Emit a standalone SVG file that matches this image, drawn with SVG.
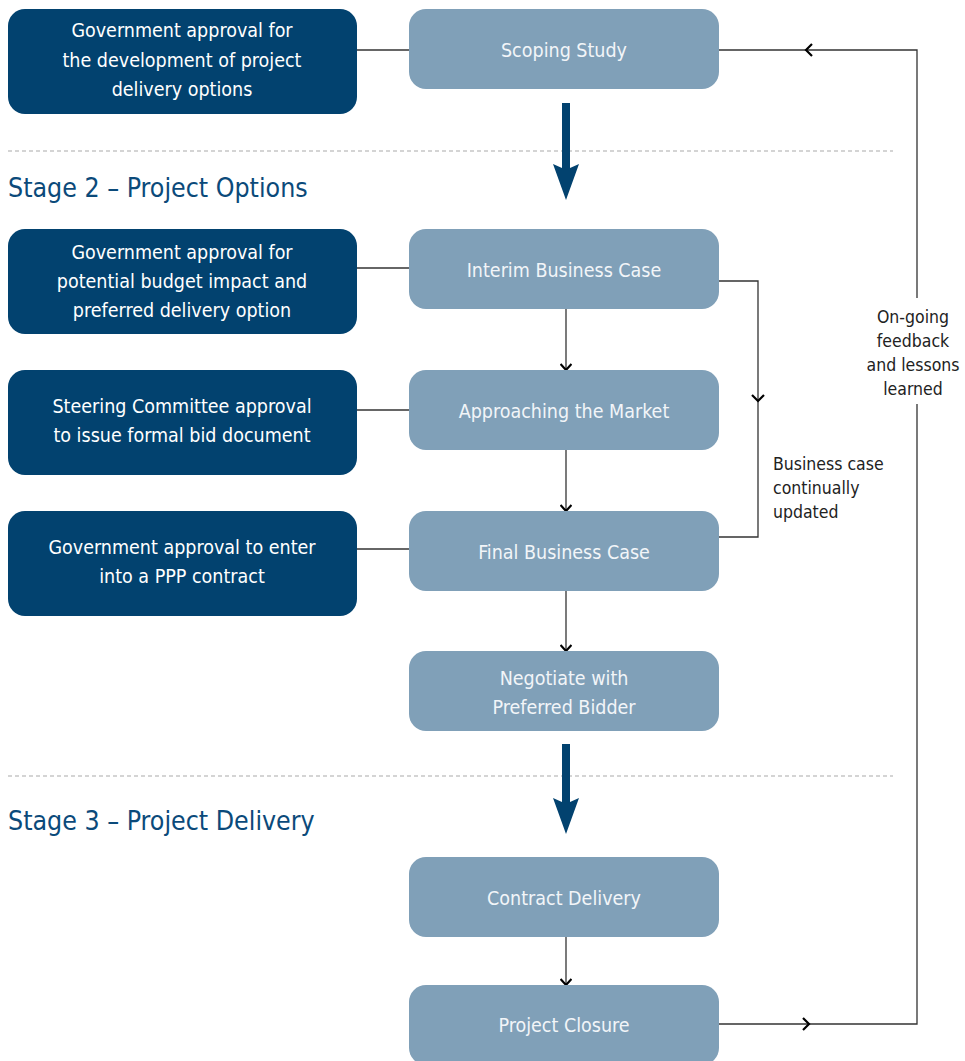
<svg xmlns="http://www.w3.org/2000/svg" width="965" height="1061" viewBox="0 0 965 1061">
<defs>
<style>
.dark{fill:#02426f}
.light{fill:#80a0b8}
.t{font-family:"Liberation Sans Narrow","DejaVu Sans Condensed","Liberation Sans",sans-serif;font-size:19.5px;fill:#ffffff;text-anchor:middle}
.lt{fill:#f2f5f8}
.stage{font-family:"Liberation Sans Narrow","DejaVu Sans Condensed","Liberation Sans",sans-serif;font-size:26.5px;fill:#0b4a7a}
.lbl{font-family:"Liberation Sans Narrow","DejaVu Sans Condensed","Liberation Sans",sans-serif;font-size:17.5px;fill:#222}
.ln{fill:none;stroke:#333;stroke-width:1.3}
.dash{stroke:#aaa;stroke-width:1.2;stroke-dasharray:4 3}
.chev{fill:none;stroke:#000;stroke-width:2.2}
</style>
<marker id="ah" viewBox="0 0 12 12" refX="11" refY="6" markerWidth="12" markerHeight="12" markerUnits="userSpaceOnUse" orient="auto">
<path d="M5,0.5 L11,6 L5,11.5" class="chev"/>
</marker>
</defs>
<line class="dash" x1="8" y1="151" x2="893" y2="151"/>
<line class="dash" x1="8" y1="776" x2="893" y2="776"/>
<text class="stage" x="8" y="197">Stage 2 – Project Options</text>
<text class="stage" x="8" y="830">Stage 3 – Project Delivery</text>
<g id="connectors">
<line class="ln" x1="357" y1="50" x2="409" y2="50"/>
<line class="ln" x1="357" y1="268" x2="409" y2="268"/>
<line class="ln" x1="357" y1="410" x2="409" y2="410"/>
<line class="ln" x1="357" y1="549" x2="409" y2="549"/>
<line class="ln" x1="566" y1="309" x2="566" y2="370" marker-end="url(#ah)"/>
<line class="ln" x1="566" y1="450" x2="566" y2="511" marker-end="url(#ah)"/>
<line class="ln" x1="566" y1="591" x2="566" y2="651" marker-end="url(#ah)"/>
<line class="ln" x1="566" y1="937" x2="566" y2="985" marker-end="url(#ah)"/>
<polyline class="ln" points="719,281 758,281 758,537 719,537"/>
<path class="chev" d="M752,395 L758,401 L764,395"/>
<polyline class="ln" points="719,1024 917,1024 917,404"/>
<polyline class="ln" points="917,298 917,50 719,50"/>
<path class="chev" d="M803,1018 L809,1024 L803,1030"/>
<path class="chev" d="M812,44 L806,50 L812,56"/>
<polygon fill="#02426f" points="562,103 570,103 570,168 579,164 566,200 553,164 562,168"/>
<polygon fill="#02426f" points="562,744 570,744 570,802 579,798 566,834 553,798 562,802"/>
</g>
<g id="n1"><rect class="dark" x="8" y="9" width="349" height="105" rx="17"/>
<text class="t" x="182" y="37">Government approval for</text>
<text class="t" x="182" y="67">the development of project</text>
<text class="t" x="182" y="96">delivery options</text></g>
<g id="n2"><rect class="dark" x="8" y="229" width="349" height="105" rx="17"/>
<text class="t" x="182" y="259">Government approval for</text>
<text class="t" x="182" y="288">potential budget impact and</text>
<text class="t" x="182" y="317">preferred delivery option</text></g>
<g id="n3"><rect class="dark" x="8" y="370" width="349" height="105" rx="17"/>
<text class="t" x="182" y="413">Steering Committee approval</text>
<text class="t" x="182" y="442">to issue formal bid document</text></g>
<g id="n4"><rect class="dark" x="8" y="511" width="349" height="105" rx="17"/>
<text class="t" x="182" y="554">Government approval to enter</text>
<text class="t" x="182" y="583">into a PPP contract</text></g>
<g id="s1"><rect class="light" x="409" y="9" width="310" height="80" rx="17"/>
<text class="t lt" x="564" y="57">Scoping Study</text></g>
<g id="s2"><rect class="light" x="409" y="229" width="310" height="80" rx="17"/>
<text class="t lt" x="564" y="277">Interim Business Case</text></g>
<g id="s3"><rect class="light" x="409" y="370" width="310" height="80" rx="17"/>
<text class="t lt" x="564" y="418">Approaching the Market</text></g>
<g id="s4"><rect class="light" x="409" y="511" width="310" height="80" rx="17"/>
<text class="t lt" x="564" y="559">Final Business Case</text></g>
<g id="s5"><rect class="light" x="409" y="651" width="310" height="80" rx="17"/>
<text class="t lt" x="564" y="685">Negotiate with</text>
<text class="t lt" x="564" y="714">Preferred Bidder</text></g>
<g id="s6"><rect class="light" x="409" y="857" width="310" height="80" rx="17"/>
<text class="t lt" x="564" y="905">Contract Delivery</text></g>
<g id="s7"><rect class="light" x="409" y="985" width="310" height="80" rx="17"/>
<text class="t lt" x="564" y="1032">Project Closure</text></g>
<g id="labels">
<text class="lbl" x="773" y="470">Business case</text>
<text class="lbl" x="773" y="494">continually</text>
<text class="lbl" x="773" y="518">updated</text>
<text class="lbl" x="913" y="323" text-anchor="middle">On-going</text>
<text class="lbl" x="913" y="347" text-anchor="middle">feedback</text>
<text class="lbl" x="913" y="371" text-anchor="middle">and lessons</text>
<text class="lbl" x="913" y="395" text-anchor="middle">learned</text>
</g>
</svg>
